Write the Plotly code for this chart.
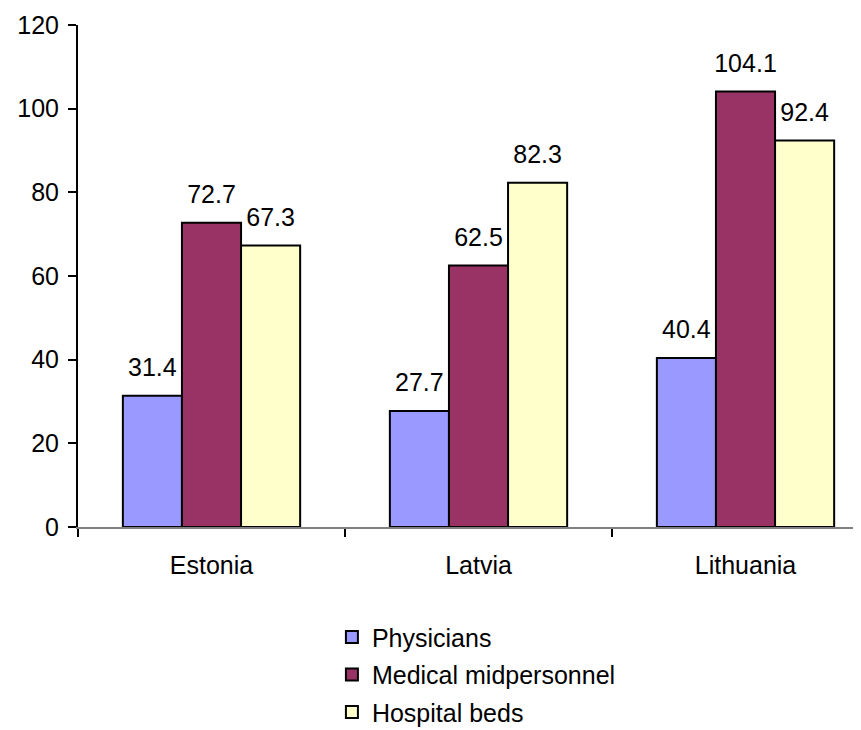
import plotly.graph_objects as go

countries = ["Estonia", "Latvia", "Lithuania"]
series_names = ["Physicians", "Medical midpersonnel", "Hospital beds"]
physicians = [31.4, 27.7, 40.4]
midpersonnel = [72.7, 62.5, 104.1]
hospital_beds = [67.3, 82.3, 92.4]
y_ticks = [0, 20, 40, 60, 80, 100, 120]

colors = ["#9999FF", "#993366", "#FFFFCC"]
values = [physicians, midpersonnel, hospital_beds]
FONT = "Liberation Sans, Arial, sans-serif"
FS = 25
GAP = 0.336

fig = go.Figure()
for i, (name, vals, col) in enumerate(zip(series_names, values, colors)):
    fig.add_trace(go.Bar(
        x=countries, y=vals, name=name,
        marker=dict(color=col, line=dict(color="black", width=2)),
        legendgroup=name, hoverinfo="skip",
    ))
for i, (name, vals) in enumerate(zip(series_names, values)):
    fig.add_trace(go.Scatter(
        x=countries, y=vals, mode="markers+text",
        text=[f"{v:.1f}" for v in vals], textposition="top center",
        textfont=dict(family=FONT, size=FS, color="black"),
        marker=dict(size=20, opacity=0),
        showlegend=False, cliponaxis=False, hoverinfo="skip",
    ))

fig.update_layout(
    width=861, height=730,
    margin=dict(l=70, r=0, t=17, b=211, autoexpand=False),
    paper_bgcolor="white", plot_bgcolor="white",
    barmode="group", bargap=GAP, bargroupgap=0,
    scattermode="group", scattergap=GAP,
    font=dict(family=FONT, size=FS, color="black"),
    showlegend=True,
    legend=dict(
        orientation="v", x=0.321, xanchor="left", y=-0.174, yanchor="top",
        font=dict(family=FONT, size=FS, color="black"),
        tracegroupgap=2, bgcolor="rgba(0,0,0,0)", borderwidth=0,
    ),
    xaxis=dict(
        type="category", range=[-0.5, 2.4625], automargin=False,
        showline=True, linecolor="#808080", linewidth=2,
        ticks="outside", ticklen=8, tickcolor="black", tickwidth=2,
        tickson="boundaries", ticklabelstandoff=15,
        showgrid=False, zeroline=False,
        tickfont=dict(family=FONT, size=FS, color="black"),
    ),
    yaxis=dict(
        range=[0, 120], tickvals=y_ticks, automargin=False,
        showline=True, linecolor="black", linewidth=2,
        ticks="outside", ticklen=8, tickcolor="black", tickwidth=2,
        ticklabelstandoff=4,
        showgrid=False, zeroline=False,
        tickfont=dict(family=FONT, size=FS, color="black"),
    ),
)

fig.write_html("out.html")
